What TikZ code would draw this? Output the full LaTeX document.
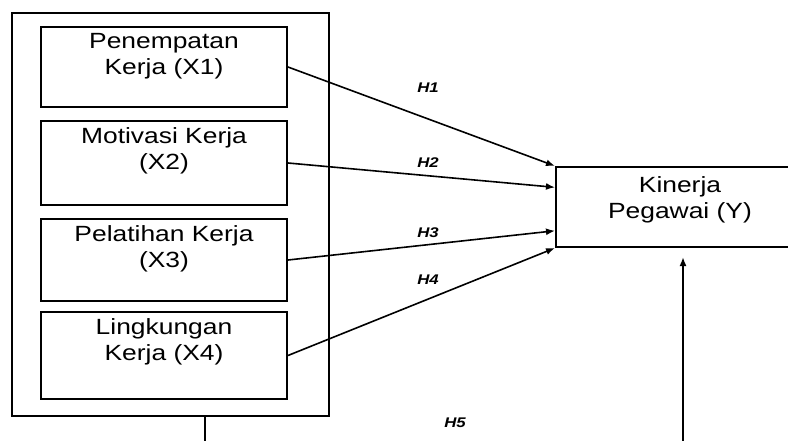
\documentclass[tikz,border=0pt]{standalone}
\usepackage{fontspec}
\setmainfont{Liberation Sans}[FakeStretch=1.2]
\usetikzlibrary{arrows.meta, calc}

\tikzset{
    varbox/.style={draw, line width=2pt, minimum width=246pt, inner sep=0pt},
    boxtext/.style={anchor=north, align=center, font=\fontsize{22}{26}\selectfont, inner sep=0pt},
    hyp/.style={font=\fontsize{14}{16}\selectfont\bfseries\itshape},
    link/.style={line width=1.6pt, -{Latex[length=9pt,width=7pt]}}
}

\begin{document}
\begin{tikzpicture}[x=1pt, y=-1pt]
    \useasboundingbox (0,0) rectangle (788,441);

    % variabel bebas
    \node[draw, line width=2pt, minimum width=317pt, minimum height=403pt] (outer) at (170.5,214.5) {};
    \node[varbox, minimum height=80pt] (x1) at (164,67) {};
    \node[varbox, minimum height=84pt] (x2) at (164,163) {};
    \node[varbox, minimum height=82pt] (x3) at (164,260) {};
    \node[varbox, minimum height=87pt] (x4) at (164,355.5) {};
    \node[boxtext] (x1t) at ($(x1.north)+(0,7)$) {Penempatan\\Kerja (X1)};
    \node[boxtext] (x2t) at ($(x2.north)+(0,7)$) {Motivasi Kerja\\(X2)};
    \node[boxtext] (x3t) at ($(x3.north)+(0,7)$) {Pelatihan Kerja\\(X3)};
    \node[boxtext] (x4t) at ($(x4.north)+(0,7)$) {Lingkungan\\Kerja (X4)};

    % variabel terikat
    \node[draw, line width=2pt, minimum width=248pt, minimum height=80pt] (y) at (680,207) {};
    \node[boxtext] (yt) at ($(y.north)+(0,10)$) {Kinerja\\Pegawai (Y)};

    % hipotesis
    \draw[link] (x1.east) -- (y.north west);
    \draw[link] (x2.east) -- ($(y.north west)!0.26!(y.south west)$);
    \draw[link] (x3.east) -- ($(y.north west)!0.79!(y.south west)$);
    \draw[link] (x4.east) -- (y.south west);

    \coordinate (b1) at (205,441);
    \coordinate (b2) at (683,441);
    \draw[line width=2pt] (outer.south -| b1) -- (b1);
    \draw[link, line width=2pt, shorten >=9pt] (b2) -- (b2 |- y.south);

    \node[hyp] (h1) at (428,88) {H1};
    \node[hyp] (h2) at (428,163) {H2};
    \node[hyp] (h3) at (428,233) {H3};
    \node[hyp] (h4) at (428,280) {H4};
    \node[hyp] (h5) at (455,423) {H5};
\end{tikzpicture}
\end{document}
